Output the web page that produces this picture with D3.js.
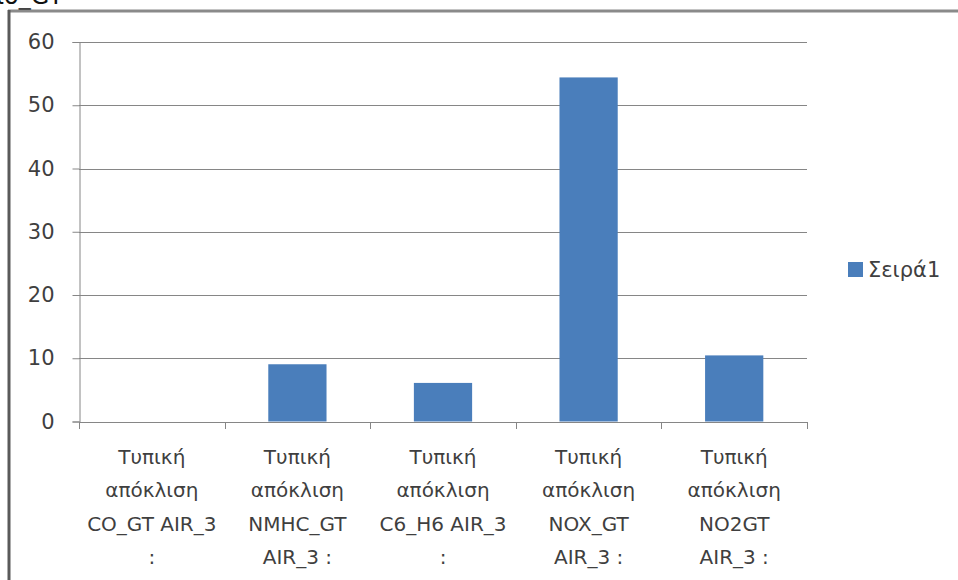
<!DOCTYPE html>
<html>
<head>
<meta charset="utf-8">
<script src="https://cdn.jsdelivr.net/npm/d3@7"></script>
<style>
  html, body { margin: 0; padding: 0; background: #fff; }
  svg { display: block; }
  text { font-family: "DejaVu Sans", sans-serif; fill: #3f3f3f; }
</style>
</head>
<body>
<svg id="chart" width="958" height="580"></svg>
<script>
// Standard deviation per pollutant (AIR_3)
const categories = [
  ["Τυπική", "απόκλιση", "CO_GT AIR_3", ":"],
  ["Τυπική", "απόκλιση", "NMHC_GT", "AIR_3 :"],
  ["Τυπική", "απόκλιση", "C6_H6 AIR_3", ":"],
  ["Τυπική", "απόκλιση", "NOX_GT", "AIR_3 :"],
  ["Τυπική", "απόκλιση", "NO2GT", "AIR_3 :"]
];
const values = [0, 9.05, 6.1, 54.4, 10.45];
const yTicks = [0, 10, 20, 30, 40, 50, 60];
const seriesName = "Σειρά1";
const pageTitle = "ιο_GT";

const svg = d3.select("#chart");
const W = 958, H = 580;
const plot = { left: 79, right: 807, top: 42, bottom: 421.5 };
const barColor = "#4a7ebb";
const axisColor = "#868686";

// Heading of the page above the chart, mostly scrolled out of view
svg.append("text")
  .attr("x", -4).attr("y", 4)
  .style("font-size", "24px")
  .style("fill", "#111")
  .text(pageTitle);

// Outer chart frame (top and left edges visible)
svg.append("line")
  .attr("x1", 8).attr("x2", W).attr("y1", 11).attr("y2", 11)
  .attr("stroke", "#8a8a8a").attr("stroke-width", 3);
svg.append("line")
  .attr("x1", 9).attr("x2", 9).attr("y1", 10).attr("y2", H)
  .attr("stroke", "#5a5a5a").attr("stroke-width", 3);

const x = d3.scaleBand()
  .domain(d3.range(categories.length))
  .range([plot.left, plot.right])
  .paddingInner(0).paddingOuter(0);

const y = d3.scaleLinear()
  .domain([0, 60])
  .range([plot.bottom, plot.top]);

// Horizontal gridlines
svg.append("g")
  .selectAll("line")
  .data(yTicks.filter(d => d > 0))
  .join("line")
  .attr("x1", plot.left).attr("x2", plot.right)
  .attr("y1", d => Math.round(y(d)) + 0.5).attr("y2", d => Math.round(y(d)) + 0.5)
  .attr("stroke", axisColor).attr("stroke-width", 1);

// Bars
const barW = x.bandwidth() * 0.4;
svg.append("g")
  .selectAll("rect")
  .data(values)
  .join("rect")
  .attr("x", (d, i) => x(i) + (x.bandwidth() - barW) / 2)
  .attr("y", d => y(d))
  .attr("width", barW)
  .attr("height", d => y(0) - y(d))
  .attr("fill", barColor);

// Y axis
const yAxis = svg.append("g")
  .attr("transform", `translate(${plot.left + 0.5},0)`)
  .call(d3.axisLeft(y).tickValues(yTicks).tickSize(7).tickPadding(18).tickFormat(d3.format("d")));
yAxis.select(".domain").attr("stroke", axisColor);
yAxis.selectAll(".tick line").attr("stroke", axisColor);
yAxis.selectAll(".tick text")
  .style("font-size", "21px")
  .style("font-family", "DejaVu Sans, sans-serif")
  .attr("fill", "#3f3f3f");

// X axis baseline and category boundary ticks
const xAxisG = svg.append("g");
xAxisG.append("line")
  .attr("x1", plot.left).attr("x2", plot.right)
  .attr("y1", Math.round(y(0)) + 0.5).attr("y2", Math.round(y(0)) + 0.5)
  .attr("stroke", axisColor);
const bounds = d3.range(categories.length + 1).map(i =>
  i < categories.length ? x(i) : x(categories.length - 1) + x.bandwidth());
xAxisG.selectAll("line.tk")
  .data(bounds)
  .join("line")
  .attr("class", "tk")
  .attr("x1", d => Math.round(d) + 0.5).attr("x2", d => Math.round(d) + 0.5)
  .attr("y1", Math.round(y(0))).attr("y2", Math.round(y(0)) + 7)
  .attr("stroke", axisColor);

// Category labels (wrapped, centred in each band)
const lab = svg.append("g")
  .selectAll("text")
  .data(categories)
  .join("text")
  .attr("text-anchor", "middle")
  .style("font-size", "20px")
  .attr("transform", (d, i) => `translate(${x(i) + x.bandwidth() / 2},464)`);
lab.selectAll("tspan")
  .data(d => d)
  .join("tspan")
  .attr("x", 0)
  .attr("y", (d, j) => j * 33.3)
  .text(d => d);

// Legend
const leg = svg.append("g").attr("transform", "translate(848,262)");
leg.append("rect").attr("width", 15).attr("height", 15).attr("fill", barColor);
leg.append("text").attr("x", 20).attr("y", 15).style("font-size", "21px").text(seriesName);
</script>
</body>
</html>
